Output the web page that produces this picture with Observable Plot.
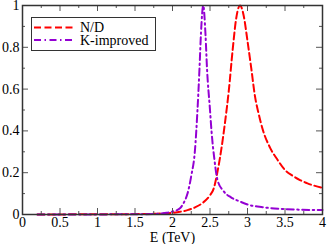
<!DOCTYPE html>
<html>
<head>
<meta charset="utf-8">
<script src="https://cdn.jsdelivr.net/npm/d3@7"></script>
<script src="https://cdn.jsdelivr.net/npm/@observablehq/plot@0.6"></script>
<style>
  html, body { margin: 0; padding: 0; background: white; }
  #wrap { position: relative; width: 327px; height: 244px; }
  #legend { position: absolute; left: 31px; top: 17px; width: 123px; height: 32px;
    border: 1.3px solid #333; background: white; box-sizing: content-box; }
  #legend svg { display: block; }
</style>
</head>
<body>
<div id="wrap"></div>
<script>
// N/D curve
const ndE = [0.2, 0.5, 1.0, 1.5, 1.8, 2.0, 2.1, 2.2, 2.3, 2.4, 2.5, 2.55, 2.6, 2.65, 2.7, 2.75, 2.8, 2.85, 2.9, 2.95, 3.0, 3.05, 3.1, 3.15, 3.2, 3.3, 3.4, 3.5, 3.6, 3.7, 3.8, 3.9, 4.0];
const ndV = [0, 0.0005, 0.001, 0.002, 0.004, 0.008, 0.013, 0.021, 0.034, 0.055, 0.092, 0.125, 0.205, 0.31, 0.44, 0.59, 0.78, 0.94, 1.0, 0.95, 0.83, 0.70, 0.565, 0.48, 0.41, 0.32, 0.262, 0.213, 0.186, 0.165, 0.149, 0.137, 0.128];
// K-improved curve
const kE = [0.2, 1.0, 1.5, 1.8, 1.9, 2.0, 2.1, 2.15, 2.2, 2.25, 2.3, 2.33, 2.36, 2.38, 2.41, 2.44, 2.46, 2.5, 2.52, 2.56, 2.6, 2.68, 2.78, 2.9, 3.0, 3.2, 3.45, 3.7, 4.0];
const kV = [0, 0.0005, 0.001, 0.003, 0.007, 0.014, 0.03, 0.056, 0.1, 0.185, 0.31, 0.48, 0.70, 0.87, 1.0, 0.86, 0.70, 0.50, 0.40, 0.26, 0.165, 0.112, 0.082, 0.062, 0.048, 0.035, 0.027, 0.023, 0.021];
// ticks
const xMajor = [0, 0.5, 1, 1.5, 2, 2.5, 3, 3.5, 4];
const xMinor = [0.25, 0.75, 1.25, 1.75, 2.25, 2.75, 3.25, 3.75];
const yMajor = [0, 0.2, 0.4, 0.6, 0.8, 1];
const yMinor = [0.1, 0.3, 0.5, 0.7, 0.9];
const seriesNames = ["N/D", "K-improved"];

const nd = ndE.map((e, i) => ({E: e, v: ndV[i]}));
const kk = kE.map((e, i) => ({E: e, v: kV[i]}));

const W = 327, H = 244, mL = 22, mR = 5, mT = 5, mB = 30;
const iw = W - mL - mR, ih = H - mT - mB;
const tickColor = "#555";
const fmt = d => String(d);
const serif = "'Liberation Serif', 'Times New Roman', serif";

const chart = Plot.plot({
  width: W, height: H,
  marginLeft: mL, marginRight: mR, marginTop: mT, marginBottom: mB,
  x: {domain: [0, 4]},
  y: {domain: [0, 1]},
  style: {fontFamily: serif, fontSize: "14px", background: "white", color: "black", overflow: "visible"},
  marks: [
    Plot.line(nd, {x: "E", y: "v", stroke: "#ff0000", strokeWidth: 2, strokeDasharray: "7,3.5", curve: "monotone-x"}),
    Plot.line(kk, {x: "E", y: "v", stroke: "#9400d3", strokeWidth: 2, strokeDasharray: "7,3.5,1.5,3.5", curve: "monotone-x"}),
    Plot.tickX(xMajor, {x: d => d, insetTop: ih - 6, stroke: tickColor}),
    Plot.tickX(xMajor, {x: d => d, insetBottom: ih - 6, stroke: tickColor}),
    Plot.tickX(xMinor, {x: d => d, insetTop: ih - 3, stroke: tickColor}),
    Plot.tickX(xMinor, {x: d => d, insetBottom: ih - 3, stroke: tickColor}),
    Plot.tickY(yMajor, {y: d => d, insetRight: iw - 6, stroke: tickColor}),
    Plot.tickY(yMajor, {y: d => d, insetLeft: iw - 6, stroke: tickColor}),
    Plot.tickY(yMinor, {y: d => d, insetRight: iw - 3, stroke: tickColor}),
    Plot.tickY(yMinor, {y: d => d, insetLeft: iw - 3, stroke: tickColor}),
    Plot.frame({stroke: "#333", strokeWidth: 1.5}),
    Plot.axisX(xMajor, {tickSize: 0, tickPadding: 3, tickFormat: fmt, label: "E (TeV)", labelAnchor: "center", labelArrow: "none", labelOffset: 27, fontSize: 14, fontFamily: serif}),
    Plot.axisY(yMajor, {tickSize: 0, tickPadding: 3, tickFormat: fmt, label: null, fontSize: 14, fontFamily: serif})
  ]
});
document.getElementById("wrap").appendChild(chart);

// legend box
const leg = document.createElement("div");
leg.id = "legend";
const colors = ["#ff0000", "#9400d3"];
const dashes = ["7,3.5", "7,3.5,1.5,3.5"];
let svg = `<svg width="123" height="32" xmlns="http://www.w3.org/2000/svg" font-family="${serif}" font-size="14">`;
seriesNames.forEach((n, i) => {
  const y = 9.5 + i * 12.5;
  svg += `<line x1="2" x2="41" y1="${y}" y2="${y}" stroke="${colors[i]}" stroke-width="2" stroke-dasharray="${dashes[i]}"/>`;
  svg += `<text x="48" y="${y}" dy="0.35em" fill="black">${n}</text>`;
});
svg += `</svg>`;
leg.innerHTML = svg;
document.getElementById("wrap").appendChild(leg);
</script>
</body>
</html>
